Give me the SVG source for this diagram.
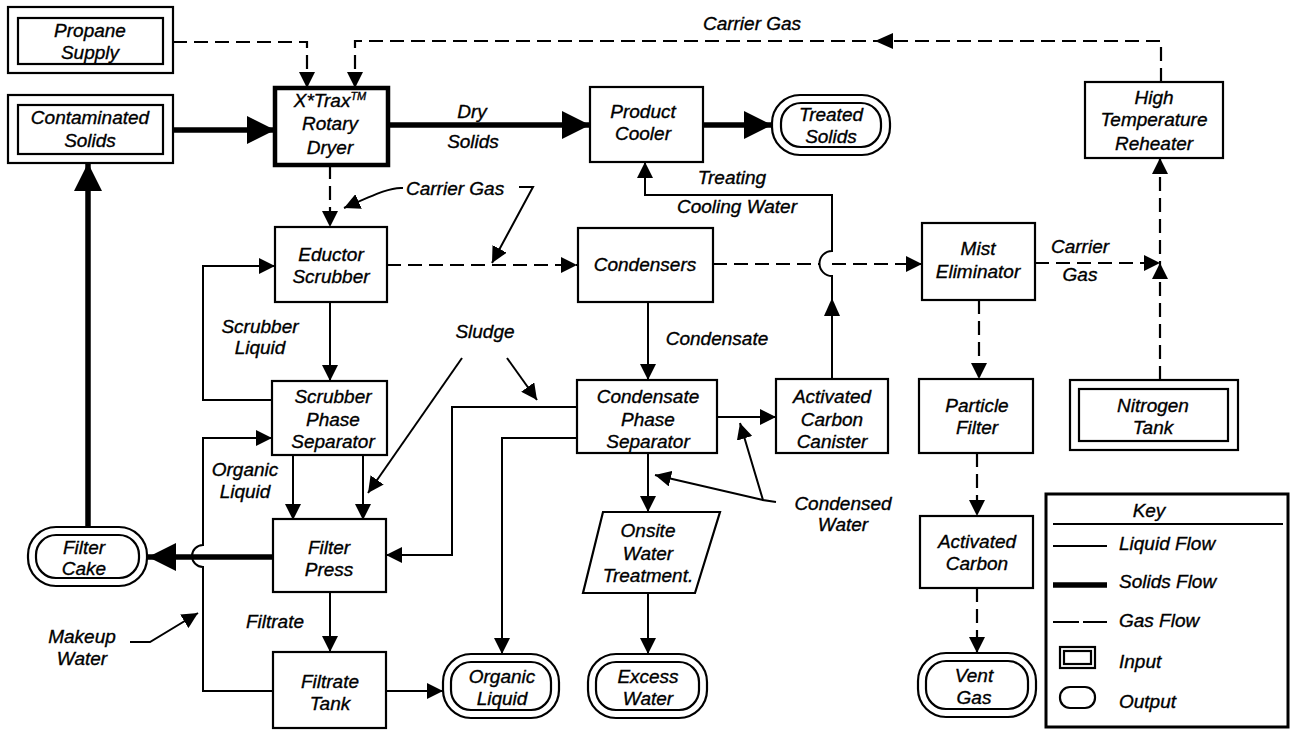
<svg xmlns="http://www.w3.org/2000/svg" width="1290" height="740" viewBox="0 0 1290 740">
<style>
text{font-family:"Liberation Sans",Arial,sans-serif;font-style:italic;font-size:19px;fill:#000;stroke:#000;stroke-width:0.35;text-anchor:middle}
.st{text-anchor:start}
.box{fill:#fff;stroke:#000;stroke-width:2.2}
.thickbox{fill:#fff;stroke:#000;stroke-width:4.5}
.liq{fill:none;stroke:#000;stroke-width:2}
.sol{fill:none;stroke:#000;stroke-width:5.5}
.gas{fill:none;stroke:#000;stroke-width:2.2;stroke-dasharray:14 7}
.ld{fill:none;stroke:#000;stroke-width:2}
</style>
<defs>
<marker id="a" viewBox="0 0 16 16" refX="16" refY="8" markerWidth="16" markerHeight="16" orient="auto" markerUnits="userSpaceOnUse"><path d="M0,0 L16,8 L0,16 z" fill="#000"/></marker>
<marker id="b" viewBox="0 0 28 28" refX="28" refY="14" markerWidth="28" markerHeight="28" orient="auto" markerUnits="userSpaceOnUse"><path d="M0,0 L28,14 L0,28 z" fill="#000"/></marker>
</defs>
<rect width="1290" height="740" fill="#fff"/>

<g id="connectors">
<!-- gas -->
<path class="gas" d="M173,42 H307 V88" marker-end="url(#a)"/>
<path class="gas" d="M1161,82 V41 H355 V88" marker-end="url(#a)"/>
<path d="M875,41 L893,33 L893,49 z" fill="#000"/>
<path class="gas" d="M330,165 V227" marker-end="url(#a)"/>
<path class="gas" d="M387,265 H577" marker-end="url(#a)"/>
<path class="gas" d="M713,264 H820" />
<path class="gas" d="M832,264 H922" marker-end="url(#a)"/>
<path class="gas" d="M1035,263 H1160" marker-end="url(#a)"/>
<path class="gas" d="M1160,380 V158" marker-end="url(#a)"/>
<path d="M1160,263 L1152,279 L1168,279 z" fill="#000"/>
<path class="gas" d="M979,300 V379" marker-end="url(#a)"/>
<path class="gas" d="M977,453 V516" marker-end="url(#a)"/>
<path class="gas" d="M977,588 V653" marker-end="url(#a)"/>
<!-- solids -->
<path class="sol" d="M173,130 H275" marker-end="url(#b)"/>
<path class="sol" d="M388,125 H590" marker-end="url(#b)"/>
<path class="sol" d="M703,125 H772" marker-end="url(#b)"/>
<path class="sol" d="M273,557 H148" marker-end="url(#b)"/>
<path class="sol" d="M88,527 V163" marker-end="url(#b)"/>
<!-- liquid -->
<path class="liq" d="M832,379 V276 A12.5,12.5 0 0 1 832,251 V195 H645 V162" marker-end="url(#a)"/>
<path d="M832,298 L824,316 L840,316 z" fill="#000"/>
<path class="liq" d="M330,302 V381" marker-end="url(#a)"/>
<path class="liq" d="M272,400 H203 V266 H275" marker-end="url(#a)"/>
<path class="liq" d="M273,691 H203 V567 A11,11 0 0 1 203,545 V438 H272" marker-end="url(#a)"/>
<path class="liq" d="M293,455 V520" marker-end="url(#a)"/>
<path class="liq" d="M363,455 V520" marker-end="url(#a)"/>
<path class="liq" d="M330,592 V652" marker-end="url(#a)"/>
<path class="liq" d="M386,691 H443" marker-end="url(#a)"/>
<path class="liq" d="M577,407 H452 V555 H386" marker-end="url(#a)"/>
<path class="liq" d="M577,438 H502 V654" marker-end="url(#a)"/>
<path class="liq" d="M648,302 V380" marker-end="url(#a)"/>
<path class="liq" d="M717,417 H776" marker-end="url(#a)"/>
<path class="liq" d="M648,453 V512" marker-end="url(#a)"/>
<path class="liq" d="M648,593 V654" marker-end="url(#a)"/>
<!-- leaders -->
<path class="ld" d="M403,188 C392,187 380,192 344,208" marker-end="url(#a)"/>
<path class="ld" d="M519,187 H533 L492,263" marker-end="url(#a)"/>
<path class="ld" d="M462,358 L368,493" marker-end="url(#a)"/>
<path class="ld" d="M507,358 L537,400" marker-end="url(#a)"/>
<path class="ld" d="M776,502 L763,500 L740,423" marker-end="url(#a)"/>
<path class="ld" d="M763,500 L655,475" marker-end="url(#a)"/>
<path class="ld" d="M130,642 H150 L198,613" marker-end="url(#a)"/>
</g>

<g id="propane-supply"><rect class="box" x="8" y="7" width="165" height="66"/><rect class="box" x="18" y="18" width="145" height="46"/><text x="90" y="37">Propane<tspan x="90" y="59">Supply</tspan></text></g>
<g id="contaminated-solids"><rect class="box" x="8" y="95" width="165" height="68"/><rect class="box" x="18" y="105" width="145" height="49"/><text x="90" y="124">Contaminated<tspan x="90" y="147">Solids</tspan></text></g>
<g id="rotary-dryer"><rect class="thickbox" x="275" y="88" width="113" height="77"/><text x="330" y="107">X*Trax<tspan font-size="11" dy="-7">TM</tspan><tspan x="330" y="130">Rotary</tspan><tspan x="330" y="154">Dryer</tspan></text></g>
<g id="product-cooler"><rect class="box" x="590" y="87" width="113" height="75"/><text x="643" y="118">Product<tspan x="643" y="140">Cooler</tspan></text></g>
<g id="treated-solids"><rect class="box" x="772" y="95" width="118" height="60" rx="28"/><rect class="box" x="781" y="103" width="100" height="44" rx="20"/><text x="831" y="121">Treated<tspan x="831" y="143">Solids</tspan></text></g>
<g id="reheater"><rect class="box" x="1085" y="82" width="138" height="76"/><text x="1154" y="104">High<tspan x="1154" y="126">Temperature</tspan><tspan x="1154" y="150">Reheater</tspan></text></g>
<g id="eductor-scrubber"><rect class="box" x="275" y="227" width="112" height="75"/><text x="331" y="261">Eductor<tspan x="331" y="283">Scrubber</tspan></text></g>
<g id="condensers"><rect class="box" x="578" y="228" width="135" height="74"/><text x="645" y="271">Condensers</text></g>
<g id="mist-eliminator"><rect class="box" x="922" y="223" width="113" height="77"/><text x="978" y="255">Mist<tspan x="978" y="278">Eliminator</tspan></text></g>
<g id="scrubber-phase-separator"><rect class="box" x="272" y="381" width="115" height="74"/><text x="333" y="403">Scrubber<tspan x="333" y="426">Phase</tspan><tspan x="333" y="448">Separator</tspan></text></g>
<g id="condensate-phase-separator"><rect class="box" x="577" y="380" width="140" height="73"/><text x="648" y="403">Condensate<tspan x="648" y="426">Phase</tspan><tspan x="648" y="448">Separator</tspan></text></g>
<g id="carbon-canister"><rect class="box" x="776" y="379" width="112" height="74"/><text x="832" y="403">Activated<tspan x="832" y="426">Carbon</tspan><tspan x="832" y="448">Canister</tspan></text></g>
<g id="particle-filter"><rect class="box" x="919" y="379" width="114" height="74"/><text x="977" y="412">Particle<tspan x="977" y="434">Filter</tspan></text></g>
<g id="nitrogen-tank"><rect class="box" x="1070" y="380" width="168" height="70"/><rect class="box" x="1079" y="389" width="149" height="52"/><text x="1153" y="412">Nitrogen<tspan x="1153" y="434">Tank</tspan></text></g>
<g id="filter-cake"><rect class="box" x="28" y="527" width="119" height="59" rx="28"/><rect class="box" x="36" y="535" width="103" height="43" rx="20"/><text x="84" y="554">Filter<tspan x="84" y="575">Cake</tspan></text></g>
<g id="filter-press"><rect class="box" x="273" y="519" width="113" height="73"/><text x="329" y="554">Filter<tspan x="329" y="576">Press</tspan></text></g>
<g id="onsite-water-treatment"><path class="box" d="M603,512 H720 L695,593 H583 z"/><text x="648" y="537">Onsite<tspan x="648" y="560">Water</tspan><tspan x="648" y="582">Treatment.</tspan></text></g>
<g id="activated-carbon"><rect class="box" x="920" y="516" width="113" height="72"/><text x="977" y="548">Activated<tspan x="977" y="570">Carbon</tspan></text></g>
<g id="filtrate-tank"><rect class="box" x="273" y="652" width="113" height="76"/><text x="330" y="688">Filtrate<tspan x="330" y="710">Tank</tspan></text></g>
<g id="organic-liquid-out"><rect class="box" x="443" y="654" width="116" height="64" rx="28"/><rect class="box" x="451" y="662" width="100" height="48" rx="20"/><text x="502" y="683">Organic<tspan x="502" y="705">Liquid</tspan></text></g>
<g id="excess-water"><rect class="box" x="588" y="654" width="119" height="64" rx="28"/><rect class="box" x="596" y="662" width="103" height="48" rx="20"/><text x="648" y="683">Excess<tspan x="648" y="705">Water</tspan></text></g>
<g id="vent-gas"><rect class="box" x="918" y="653" width="118" height="64" rx="28"/><rect class="box" x="926" y="661" width="102" height="48" rx="20"/><text x="974" y="682">Vent<tspan x="974" y="704">Gas</tspan></text></g>

<g id="labels">
<text x="752" y="30">Carrier Gas</text>
<text x="472" y="118">Dry</text>
<text x="473" y="148">Solids</text>
<text class="st" x="406" y="195">Carrier Gas</text>
<text x="732" y="184">Treating</text>
<text x="737" y="213">Cooling Water</text>
<text x="1080" y="253">Carrier</text>
<text x="1080" y="281">Gas</text>
<text x="260" y="333">Scrubber<tspan x="260" y="354">Liquid</tspan></text>
<text x="485" y="338">Sludge</text>
<text x="717" y="345">Condensate</text>
<text x="245" y="476">Organic<tspan x="245" y="498">Liquid</tspan></text>
<text x="843" y="510">Condensed<tspan x="843" y="531">Water</tspan></text>
<text x="275" y="628">Filtrate</text>
<text x="82" y="643">Makeup<tspan x="82" y="665">Water</tspan></text>
</g>

<g id="key">
<rect x="1046" y="494" width="242" height="233" fill="#fff" stroke="#000" stroke-width="3"/>
<text x="1149" y="517">Key</text>
<line x1="1053" y1="524" x2="1283" y2="524" stroke="#000" stroke-width="2"/>
<line x1="1053" y1="546" x2="1107" y2="546" class="liq"/>
<line x1="1053" y1="585" x2="1107" y2="585" class="sol"/>
<line x1="1053" y1="622" x2="1107" y2="622" class="liq" stroke-dasharray="26 4 24"/>
<rect x="1060" y="647" width="35" height="21" class="box"/><rect x="1064" y="651" width="27" height="13" class="box" stroke-width="1.5"/>
<rect x="1060" y="687" width="35" height="21" rx="10" class="box" stroke-width="3"/>
<text class="st" x="1119" y="550">Liquid Flow</text>
<text class="st" x="1119" y="588">Solids Flow</text>
<text class="st" x="1119" y="627">Gas Flow</text>
<text class="st" x="1119" y="668">Input</text>
<text class="st" x="1119" y="708">Output</text>
</g>
</svg>
